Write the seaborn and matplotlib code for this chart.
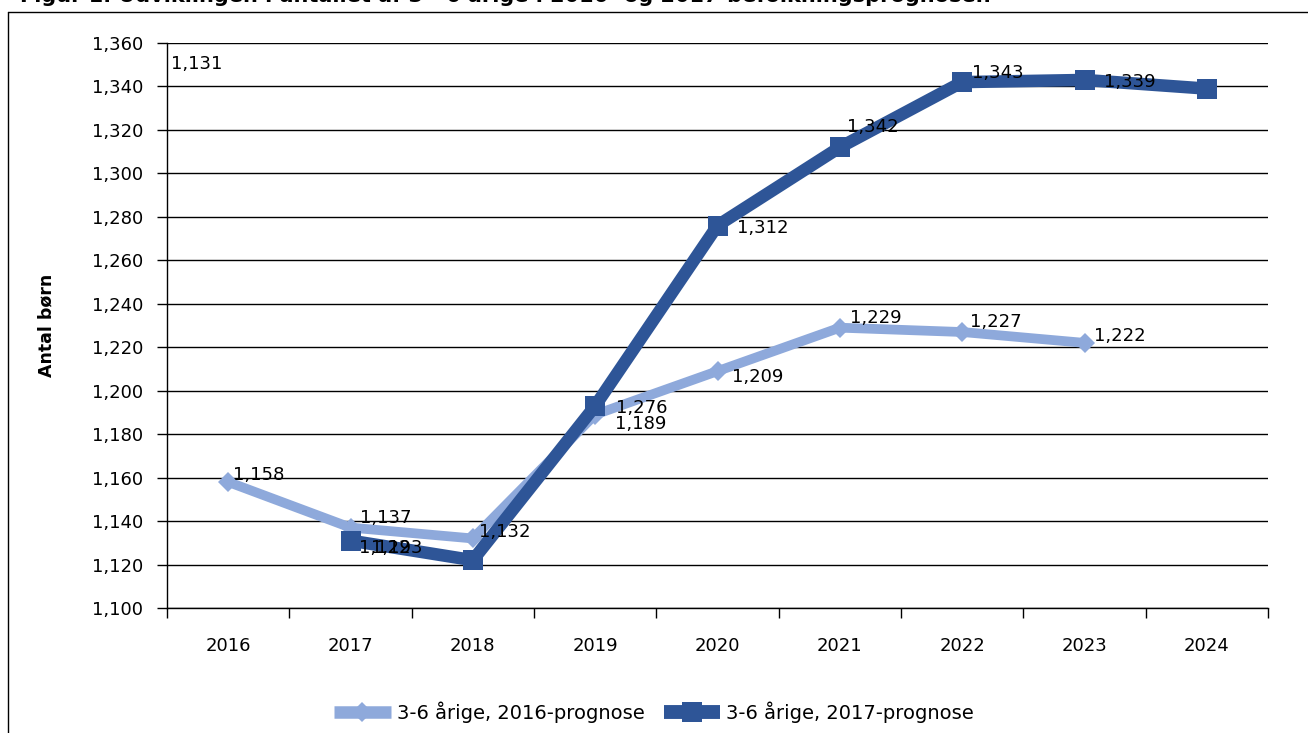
import numpy as np
import pandas as pd
import matplotlib.pyplot as plt
import matplotlib.ticker as mticker
from matplotlib.lines import Line2D
import seaborn as sns

# Data
years = ["2016", "2017", "2018", "2019", "2020", "2021", "2022", "2023", "2024"]
prog_2016 = [1158, 1137, 1132, 1189, 1209, 1229, 1227, 1222, np.nan]
prog_2017 = [np.nan, 1131, 1122, 1193, 1276, 1312, 1342, 1343, 1339]
name_2016 = "3-6 årige, 2016-prognose"
name_2017 = "3-6 årige, 2017-prognose"

# label placement (pixel offsets for the 2016 series, data coords for the shifted 2017 labels)
offsets_2016 = [(5, 7), (9, 10), (6, 6), (20, -9), (15, -6), (10, 10), (8, 10), (10, 7)]
labelpos_2017 = [(-0.47, 1350.3), (1.07, 1127.6), (1.17, 1127.6), (3.17, 1192.0),
                 (4.16, 1274.9), (5.06, 1321.3), (6.08, 1346.0), (7.16, 1342.0)]

light = "#8EA9DB"
dark = "#2E5597"

sns.set_theme(style="white")
plt.rcParams['font.family'] = ['DejaVu Sans']
plt.rcParams['text.color'] = 'black'
plt.rcParams['xtick.color'] = 'black'
plt.rcParams['ytick.color'] = 'black'
plt.rcParams['axes.labelcolor'] = 'black'

fig = plt.figure(figsize=(13.08, 7.33), dpi=100)
ax = fig.add_axes([167 / 1308, 1 - 608 / 733, 1101 / 1308, 565 / 733])

x = np.arange(len(years))
df = pd.DataFrame({"x": x, name_2016: prog_2016, name_2017: prog_2017})

sns.lineplot(data=df, x="x", y=name_2016, ax=ax, color=light, linewidth=7,
             marker="D", markersize=10, markeredgewidth=0, zorder=3)
sns.lineplot(data=df, x="x", y=name_2017, ax=ax, color=dark, linewidth=9,
             marker="s", markersize=14, markeredgewidth=0, zorder=4)

# data labels
for i, v in enumerate(prog_2016):
    if np.isnan(v):
        continue
    dx, dy = offsets_2016[i]
    ax.annotate(f"{v:,.0f}", xy=(i, v), xytext=(dx, dy), textcoords="offset pixels",
                ha="left", va="center", fontsize=13, color="black", zorder=6)

vals_2017 = [v for v in prog_2017 if not np.isnan(v)]
for (lx, ly), v in zip(labelpos_2017, vals_2017):
    ax.text(lx, ly, f"{v:,.0f}", ha="left", va="center", fontsize=13,
            color="black", zorder=6)

ax.set_xlim(-0.5, len(years) - 0.5)
ax.set_ylim(1100, 1360)
ax.set_yticks(np.arange(1100, 1361, 20))
ax.yaxis.set_major_formatter(mticker.FuncFormatter(lambda v, p: f"{v:,.0f}"))
ax.set_xticks(x)
ax.set_xticklabels(years)
ax.set_xticks(np.arange(-0.5, len(years), 1), minor=True)

ax.grid(axis="y", color="black", linewidth=1)
ax.set_axisbelow(True)
for s in ["top", "right"]:
    ax.spines[s].set_visible(False)
for s in ["left", "bottom"]:
    ax.spines[s].set_color("black")
    ax.spines[s].set_linewidth(1)

ax.tick_params(axis="y", which="major", direction="out", length=7, width=1,
               color="black", labelcolor="black", labelsize=13, pad=10, left=True)
ax.tick_params(axis="x", which="major", length=0, labelsize=13, pad=21, labelcolor="black")
ax.tick_params(axis="x", which="minor", direction="out", length=7, width=1,
               color="black", bottom=True)

ax.set_xlabel("")
ax.set_ylabel("Antal børn", fontsize=12.5, fontweight="bold", labelpad=26, color="black")

# legend
handles = [Line2D([0], [0], color=light, linewidth=9, marker="D", markersize=10,
                  markeredgewidth=0, solid_capstyle="butt"),
           Line2D([0], [0], color=dark, linewidth=10, marker="s", markersize=14,
                  markeredgewidth=0, solid_capstyle="butt")]
leg = fig.legend(handles, [name_2016, name_2017], loc="center",
                 bbox_to_anchor=(0.5, 1 - 712 / 733), ncol=2, frameon=False, fontsize=14,
                 handlelength=2.9, columnspacing=1.0, handletextpad=0.3)
for t in leg.get_texts():
    t.set_color("black")

# chart border and clipped title
fig.add_artist(Line2D([8 / 1308, 8 / 1308], [0, 1 - 12 / 733], color="black", linewidth=1,
                      transform=fig.transFigure))
fig.add_artist(Line2D([8 / 1308, 1], [1 - 12 / 733, 1 - 12 / 733], color="black", linewidth=1,
                      transform=fig.transFigure))
fig.text(20 / 1308, 1 - 2.5 / 733,
         "Figur 1. Udviklingen i antallet af 3 - 6 årige i 2016- og 2017-befolkningsprognosen",
         fontsize=15, fontweight="bold", ha="left", va="baseline", color="black")

fig.savefig("out.png", dpi=100)
